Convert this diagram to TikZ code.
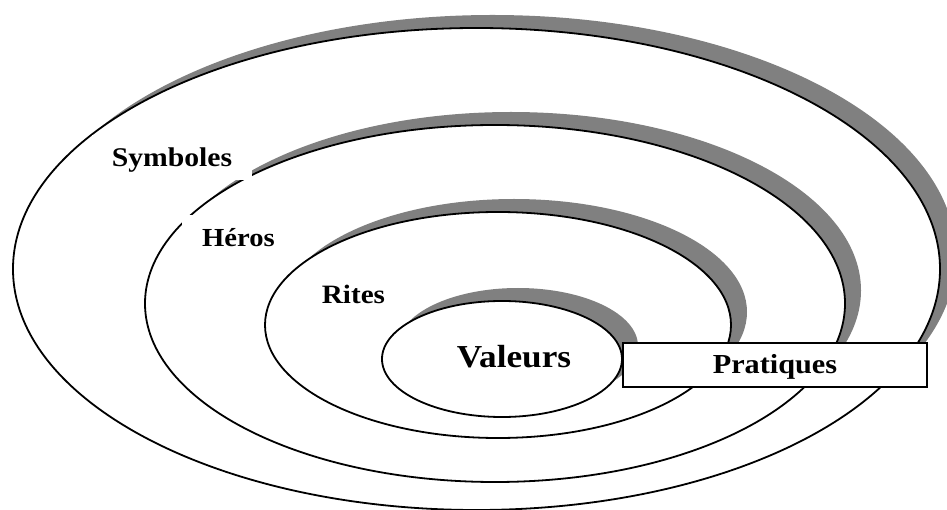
\documentclass[tikz,border=0pt]{standalone}
\usepackage{fontspec}
\setmainfont{Liberation Serif}[FakeStretch=1.1]
\definecolor{shadowgray}{RGB}{128,128,128}
\begin{document}
\begin{tikzpicture}[x=1pt,y=-1pt,
  ring/.style={fill=white,draw=black,line width=1.8pt},
  shadowring/.style={fill=shadowgray,shift={(16,-13)}},
  lbl/.style={fill=white,inner xsep=20pt,inner ysep=13pt,text height=19pt,text depth=0pt,anchor=base,
    font=\bfseries\fontsize{27}{30}\selectfont}]
\useasboundingbox (0,0) rectangle (947,510);
% outer ring
\fill[shadowring] (476.5,269) ellipse (463.5 and 241);
\filldraw[ring] (476.5,269) ellipse (463.5 and 241);
% second ring
\fill[shadowring] (495,303.5) ellipse (350 and 178.5);
\filldraw[ring] (495,303.5) ellipse (350 and 178.5);
% third ring
\fill[shadowring] (498,325) ellipse (233 and 113);
\filldraw[ring] (498,325) ellipse (233 and 113);
% inner ring
\fill[shadowring] (502,359) ellipse (120 and 58);
\filldraw[ring] (502,359) ellipse (120 and 58);
% labels
\node[lbl] (symb) at (172,167) {Symboles};
\node[lbl,font=\bfseries\fontsize{26}{30}\selectfont] (heros) at (238.5,247) {Héros};
\node[lbl,font=\bfseries\fontsize{26.5}{30}\selectfont] (rites) at (353.5,304) {Rites};
\node[lbl,font=\bfseries\fontsize{32}{34}\selectfont,inner xsep=5pt,inner ysep=3pt] (val) at (514,367) {Valeurs};
\node[draw=black,fill=white,line width=1.4pt,minimum width=304pt,minimum height=44pt,
  text height=17pt,text depth=0pt,inner sep=0pt,font=\bfseries\fontsize{27.5}{30}\selectfont]
  (prat) at (775,365) {Pratiques};
\end{tikzpicture}
\end{document}
